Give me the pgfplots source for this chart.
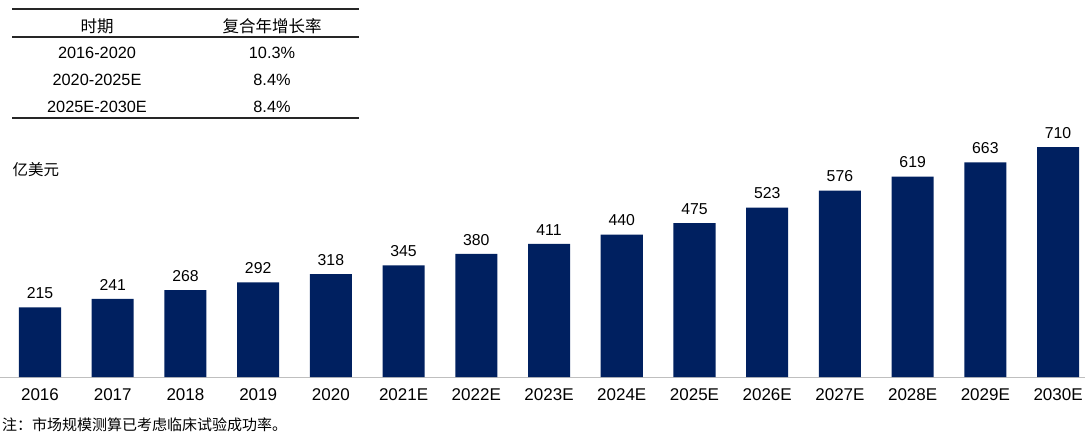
\documentclass[border=0pt]{standalone}
\usepackage{fontspec}
\setmainfont{Liberation Sans}
\newfontfamily\cjk{Noto Sans CJK SC}
\usepackage{pgfplots}
\pgfplotsset{compat=1.18}
\definecolor{barblue}{HTML}{002060}
\begin{document}
\begin{tikzpicture}
\begin{axis}[
  at={(0pt,0pt)}, anchor=south west,
  scale only axis, width=1085pt, height=259pt,
  xmin=-0.55, xmax=14.37, ymin=0, ymax=800,
  axis y line=none, axis x line*=bottom,
  x axis line style={draw=black!25, line width=1pt},
  xtick=data,
  xticklabels={2016,2017,2018,2019,2020,2021E,2022E,2023E,2024E,2025E,2026E,2027E,2028E,2029E,2030E},
  major tick length=0pt,
  xticklabel style={font=\fontsize{17}{19}\selectfont, yshift=-8pt},
  ybar, bar width=0.578,
  nodes near coords,
  nodes near coords style={font=\fontsize{15.8}{18}\selectfont, yshift=5pt, text=black},
  clip=false,
  /pgf/number format/assume math mode=true,
]
\addplot[fill=barblue, draw=none] coordinates {
(0,215) (1,241) (2,268) (3,292) (4,318) (5,345) (6,380) (7,411)
(8,440) (9,475) (10,523) (11,576) (12,619) (13,663) (14,710)};
\end{axis}
% unit label
\node[anchor=west, font=\cjk\fontsize{15.5}{18}\selectfont] at (9pt,207pt) {亿美元};
% footnote
\node[anchor=west, inner sep=0pt, font=\cjk\fontsize{15}{17}\selectfont] at (2pt,-48pt) {注：市场规模测算已考虑临床试验成功率。};
% table
\draw[line width=1.3pt, black!85] (12pt,368pt) -- (359pt,368pt);
\draw[line width=1.1pt, black!85] (12pt,340pt) -- (359pt,340pt);
\draw[line width=1.3pt, black!85] (12pt,259pt) -- (359pt,259pt);
\node[font=\cjk\fontsize{16.5}{18}\selectfont] at (97pt,351pt) {时期};
\node[font=\cjk\fontsize{16.5}{18}\selectfont] at (272pt,351pt) {复合年增长率};
\node[font=\fontsize{16.3}{18}\selectfont] at (97pt,324pt) {2016-2020};
\node[font=\fontsize{16.3}{18}\selectfont] at (272pt,324pt) {10.3\%};
\node[font=\fontsize{16.3}{18}\selectfont] at (97pt,297pt) {2020-2025E};
\node[font=\fontsize{16.3}{18}\selectfont] at (272pt,297pt) {8.4\%};
\node[font=\fontsize{16.3}{18}\selectfont] at (97pt,270pt) {2025E-2030E};
\node[font=\fontsize{16.3}{18}\selectfont] at (272pt,270pt) {8.4\%};
\pgfresetboundingbox
\path[use as bounding box] (0pt,-57pt) rectangle (1087pt,377pt);
\end{tikzpicture}
\end{document}
